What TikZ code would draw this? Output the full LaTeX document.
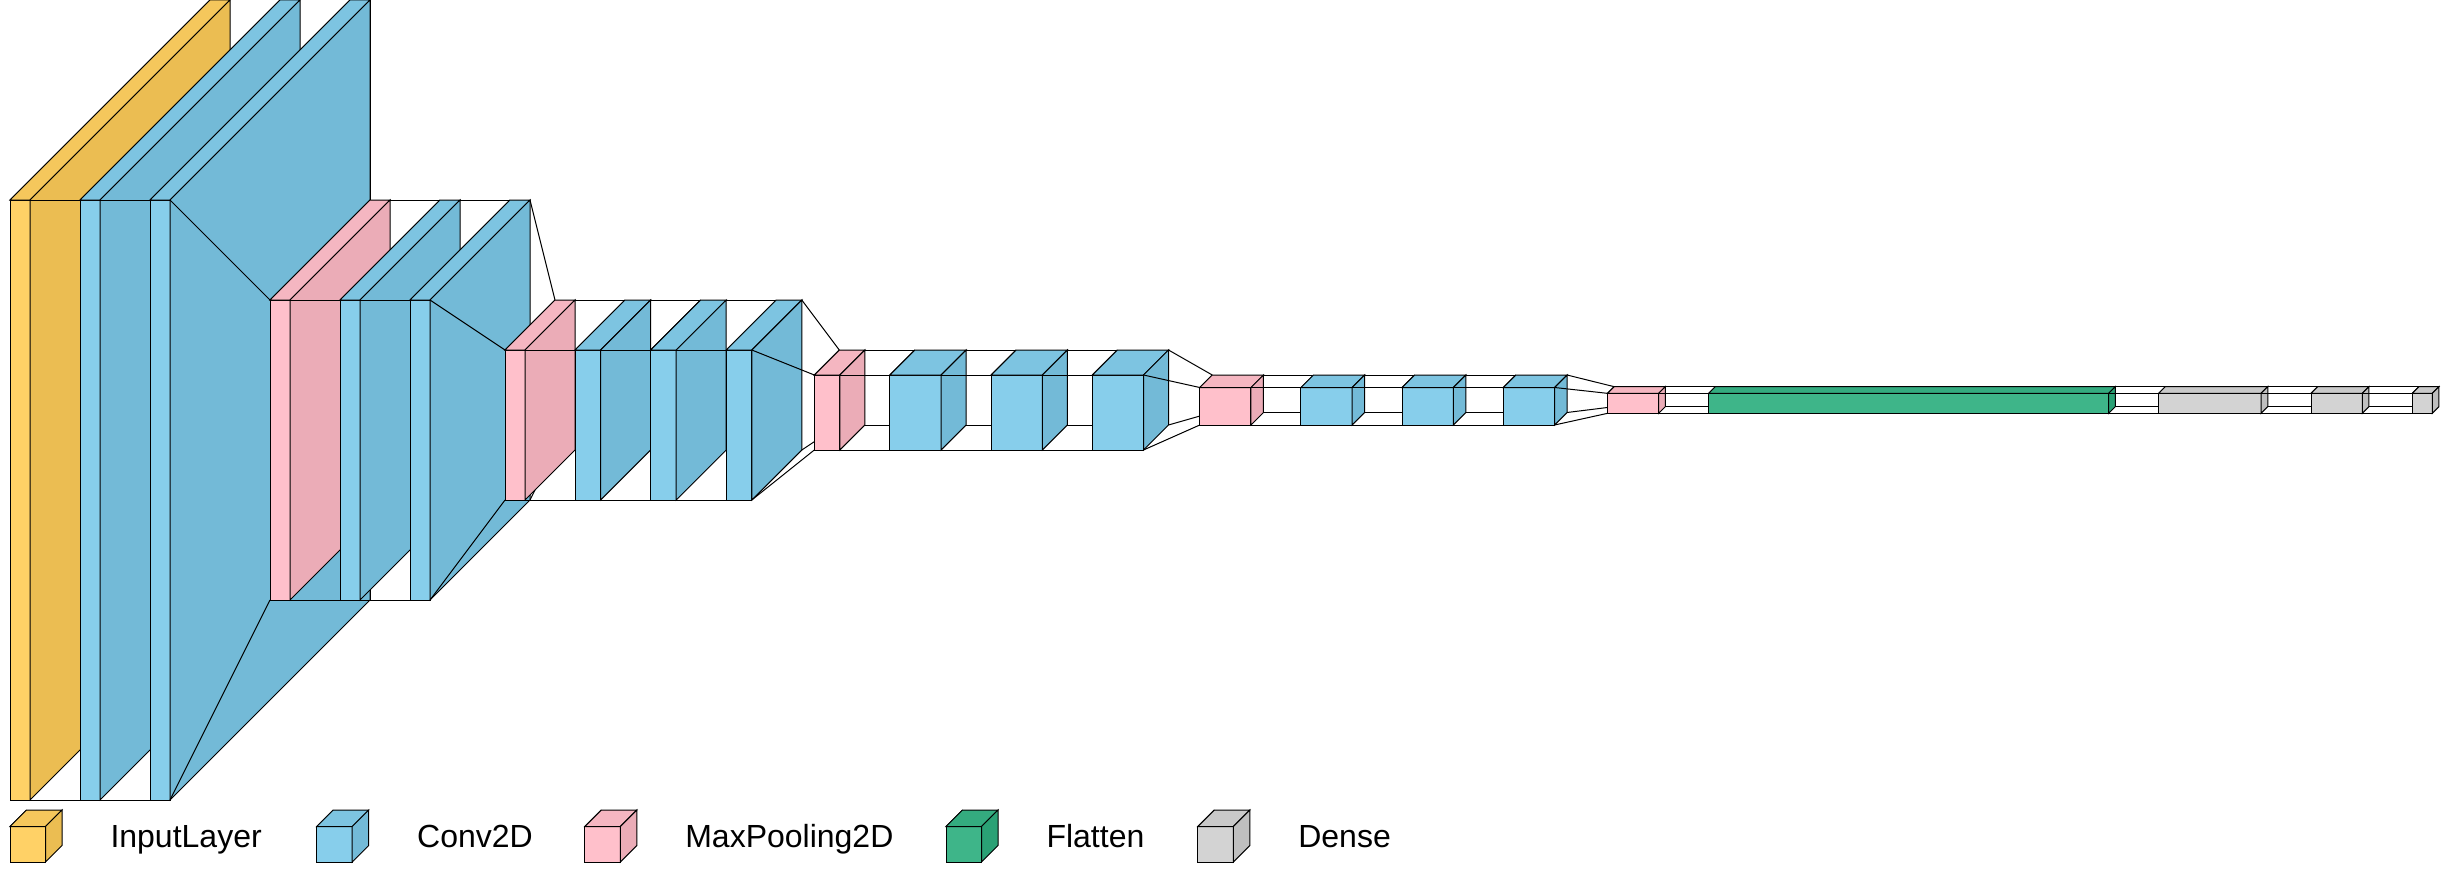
\documentclass[tikz,border=0pt]{standalone}
\usepackage{fontspec}
\setmainfont{Liberation Sans}
\definecolor{inf}{RGB}{255,209,102}
\definecolor{int}{RGB}{245,199,92}
\definecolor{ins}{RGB}{235,189,82}
\definecolor{cvf}{RGB}{135,206,235}
\definecolor{cvt}{RGB}{125,196,225}
\definecolor{cvs}{RGB}{115,186,215}
\definecolor{plf}{RGB}{255,192,203}
\definecolor{plt}{RGB}{245,182,193}
\definecolor{pls}{RGB}{235,172,183}
\definecolor{flf}{RGB}{62,181,137}
\definecolor{flt}{RGB}{52,171,127}
\definecolor{fls}{RGB}{42,161,117}
\definecolor{dnf}{RGB}{211,211,211}
\definecolor{dnt}{RGB}{201,201,201}
\definecolor{dns}{RGB}{191,191,191}
% define corner coordinates of a layer box: name, x1, width, height
\newcommand{\vkdef}[4]{%
  \pgfmathsetmacro\vkde{#4/3}%
  \pgfmathsetmacro\vkxa{#2}%
  \pgfmathsetmacro\vkxb{#2+#3}%
  \pgfmathsetmacro\vkya{400-#4/3}%
  \pgfmathsetmacro\vkyb{400+2*#4/3}%
  \pgfmathsetmacro\vkxc{\vkxa+\vkde}%
  \pgfmathsetmacro\vkxd{\vkxb+\vkde}%
  \pgfmathsetmacro\vkyc{\vkya-\vkde}%
  \pgfmathsetmacro\vkyd{\vkyb-\vkde}%
  \coordinate (#1-ftl) at (\vkxa,\vkya);%
  \coordinate (#1-ftr) at (\vkxb,\vkya);%
  \coordinate (#1-fbr) at (\vkxb,\vkyb);%
  \coordinate (#1-fbl) at (\vkxa,\vkyb);%
  \coordinate (#1-btl) at (\vkxc,\vkyc);%
  \coordinate (#1-btr) at (\vkxd,\vkyc);%
  \coordinate (#1-bbr) at (\vkxd,\vkyd);%
  \coordinate (#1-bbl) at (\vkxc,\vkyd);%
}
% draw a box: name, front, top, side colours
\newcommand{\vkdraw}[4]{%
  \draw[vkline, fill=#2] (#1-ftl) rectangle (#1-fbr);%
  \draw[vkline] (#1-btl) -- (#1-ftl);%
  \draw[vkline, fill=#3] (#1-ftl) -- (#1-btl) -- (#1-btr) -- (#1-ftr) -- cycle;%
  \draw[vkline, fill=#4] (#1-btr) -- (#1-ftr) -- (#1-fbr) -- (#1-bbr) -- cycle;%
}
% funnel lines between consecutive boxes
\newcommand{\vkfunnel}[2]{%
  \draw[vkline] (#1-btr) -- (#2-btl);%
  \draw[vkline] (#1-bbr) -- (#2-bbl);%
  \draw[vkline] (#1-fbr) -- (#2-fbl);%
  \draw[vkline] (#1-ftr) -- (#2-ftl);%
}
% legend cube: name, x, front, top, side
\newcommand{\vkcube}[5]{%
  \pgfmathsetmacro\vkxa{#2}%
  \pgfmathsetmacro\vkxb{#2+35.5}%
  \pgfmathsetmacro\vkxc{#2+16.5}%
  \pgfmathsetmacro\vkxd{#2+52}%
  \coordinate (#1-ftl) at (\vkxa,826.5);%
  \coordinate (#1-ftr) at (\vkxb,826.5);%
  \coordinate (#1-fbr) at (\vkxb,862);%
  \coordinate (#1-btl) at (\vkxc,810);%
  \coordinate (#1-btr) at (\vkxd,810);%
  \coordinate (#1-bbr) at (\vkxd,845.5);%
  \vkdraw{#1}{#3}{#4}{#5}%
}
\begin{document}
\begin{tikzpicture}[x=1pt,y=-1pt,
  vkline/.style={draw=black, line width=1pt, line join=miter},
  vklabel/.style={inner sep=0pt, outer sep=0pt, font=\fontsize{32pt}{38pt}\selectfont, anchor=base west}]
\useasboundingbox[fill=white] (0,0) rectangle (2449,872);
% layer geometry
\vkdef{b1}{10}{20}{600}
\vkdef{b2}{80}{20}{600}
\vkdef{b3}{150}{20}{600}
\vkdef{b4}{270}{20}{300}
\vkdef{b5}{340}{20}{300}
\vkdef{b6}{410}{20}{300}
\vkdef{b7}{505}{20}{150}
\vkdef{b8}{575}{25.6}{150}
\vkdef{b9}{650.6}{25.6}{150}
\vkdef{b10}{726.2}{25.6}{150}
\vkdef{b11}{814.3}{25.6}{75}
\vkdef{b12}{889.9}{51.2}{75}
\vkdef{b13}{991.1}{51.2}{75}
\vkdef{b14}{1092.3}{51.2}{75}
\vkdef{b15}{1199.75}{51.2}{37.5}
\vkdef{b16}{1300.95}{51.2}{37.5}
\vkdef{b17}{1402.15}{51.2}{37.5}
\vkdef{b18}{1503.35}{51.2}{37.5}
\vkdef{b19}{1607.47}{51.2}{20}
\vkdef{b20}{1708.67}{400}{20}
\vkdef{b21}{2158.67}{102.4}{20}
\vkdef{b22}{2311.07}{51.2}{20}
\vkdef{b23}{2412.27}{20}{20}
% drawing in order
\vkdraw{b1}{inf}{int}{ins}
\vkfunnel{b1}{b2}\vkdraw{b2}{cvf}{cvt}{cvs}
\vkfunnel{b2}{b3}\vkdraw{b3}{cvf}{cvt}{cvs}
\vkfunnel{b3}{b4}\vkdraw{b4}{plf}{plt}{pls}
\vkfunnel{b4}{b5}\vkdraw{b5}{cvf}{cvt}{cvs}
\vkfunnel{b5}{b6}\vkdraw{b6}{cvf}{cvt}{cvs}
\vkfunnel{b6}{b7}\vkdraw{b7}{plf}{plt}{pls}
\vkfunnel{b7}{b8}\vkdraw{b8}{cvf}{cvt}{cvs}
\vkfunnel{b8}{b9}\vkdraw{b9}{cvf}{cvt}{cvs}
\vkfunnel{b9}{b10}\vkdraw{b10}{cvf}{cvt}{cvs}
\vkfunnel{b10}{b11}\vkdraw{b11}{plf}{plt}{pls}
\vkfunnel{b11}{b12}\vkdraw{b12}{cvf}{cvt}{cvs}
\vkfunnel{b12}{b13}\vkdraw{b13}{cvf}{cvt}{cvs}
\vkfunnel{b13}{b14}\vkdraw{b14}{cvf}{cvt}{cvs}
\vkfunnel{b14}{b15}\vkdraw{b15}{plf}{plt}{pls}
\vkfunnel{b15}{b16}\vkdraw{b16}{cvf}{cvt}{cvs}
\vkfunnel{b16}{b17}\vkdraw{b17}{cvf}{cvt}{cvs}
\vkfunnel{b17}{b18}\vkdraw{b18}{cvf}{cvt}{cvs}
\vkfunnel{b18}{b19}\vkdraw{b19}{plf}{plt}{pls}
\vkfunnel{b19}{b20}\vkdraw{b20}{flf}{flt}{fls}
\vkfunnel{b20}{b21}\vkdraw{b21}{dnf}{dnt}{dns}
\vkfunnel{b21}{b22}\vkdraw{b22}{dnf}{dnt}{dns}
\vkfunnel{b22}{b23}\vkdraw{b23}{dnf}{dnt}{dns}
% legend
\vkcube{lc1}{10}{inf}{int}{ins}
\node[vklabel] (lt1) at (110.5,847) {InputLayer};
\vkcube{lc2}{316.7}{cvf}{cvt}{cvs}
\node[vklabel] (lt2) at (417.2,847) {Conv2D};
\vkcube{lc3}{584.8}{plf}{plt}{pls}
\node[vklabel] (lt3) at (685.3,847) {MaxPooling2D};
\vkcube{lc4}{946}{flf}{flt}{fls}
\node[vklabel] (lt4) at (1046.5,847) {Flatten};
\vkcube{lc5}{1197.8}{dnf}{dnt}{dns}
\node[vklabel] (lt5) at (1298.3,847) {Dense};
\end{tikzpicture}
\end{document}
